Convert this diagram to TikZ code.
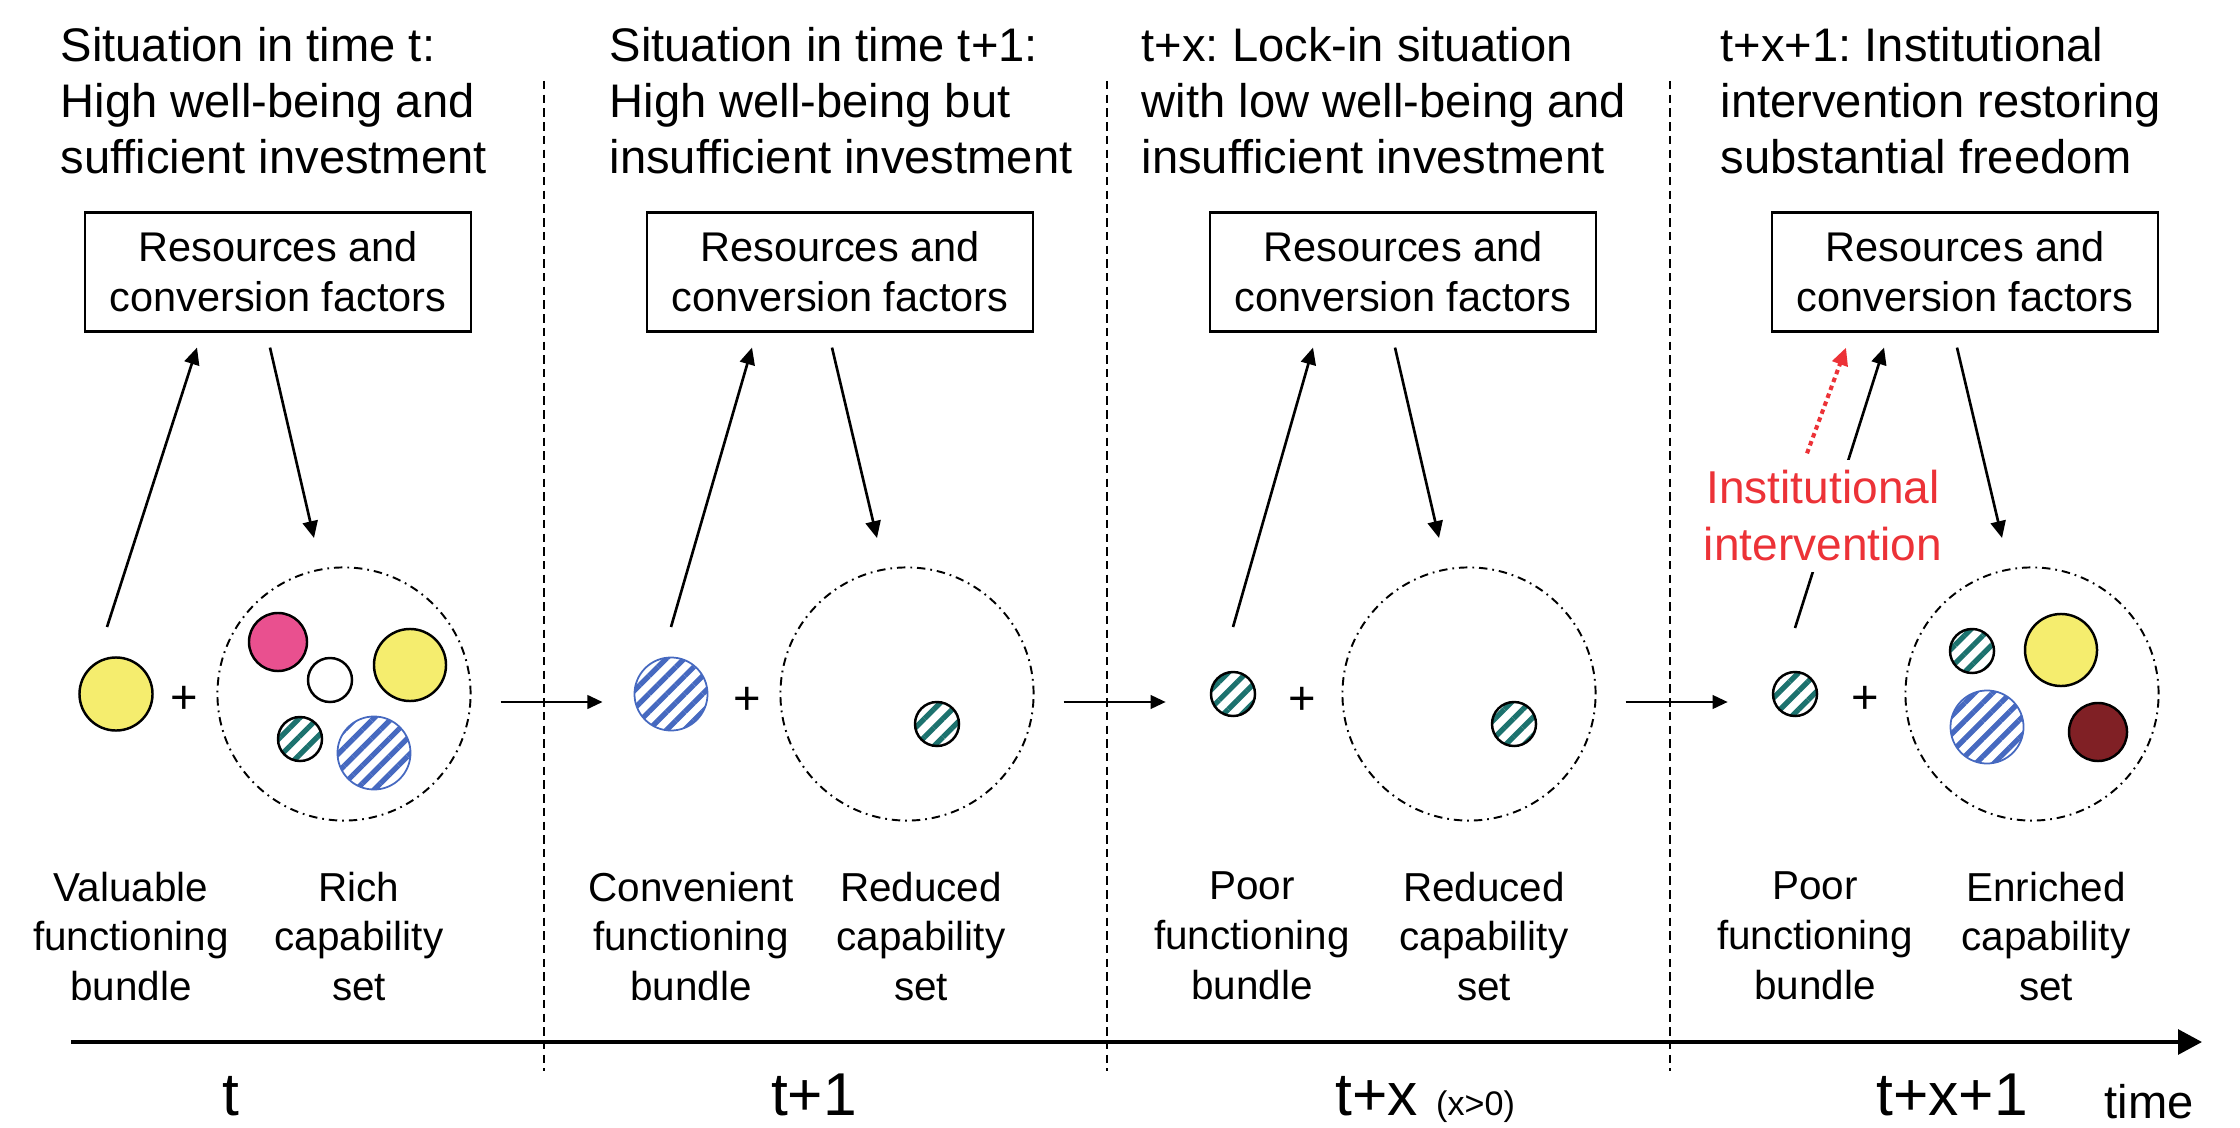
\documentclass[tikz,border=0pt]{standalone}
\usepackage{fontspec}
\setmainfont{Liberation Sans}
\usetikzlibrary{calc,arrows.meta,patterns.meta}
\frenchspacing

\definecolor{bulbyellow}{RGB}{245,237,110}
\definecolor{bulbpink}{RGB}{233,80,143}
\definecolor{bulbmaroon}{RGB}{128,32,37}
\definecolor{stripeblue}{RGB}{70,105,192}
\definecolor{stripeteal}{RGB}{28,114,110}
\definecolor{instred}{RGB}{236,50,55}

\newcommand{\headfont}{\fontsize{13.4}{15.9}\selectfont}
\newcommand{\boxfont}{\fontsize{11.8}{14.2}\selectfont}
\newcommand{\labfont}{\fontsize{11.5}{14.2}\selectfont}
\newcommand{\tickfont}{\fontsize{17.2}{20}\selectfont}

\tikzset{
	heading/.style={anchor=north west, inner sep=0pt, align=left, font=\headfont},
	factorbox/.style={draw, line width=0.6pt, minimum width=3.86cm, minimum height=1.19cm, inner sep=0pt, align=center, font=\boxfont},
	ball/.style={circle, draw, line width=0.7pt, inner sep=0pt, minimum size=#1},
	tealball/.style={ball=0.44cm, pattern={Lines[angle=45,distance=3.7pt,line width=1.5pt]}, pattern color=stripeteal},
	blueball/.style={ball=0.73cm, draw=stripeblue, line width=0.5pt, pattern={Lines[angle=45,distance=3.6pt,line width=1.5pt]}, pattern color=stripeblue},
	capset/.style={circle, draw, inner sep=0pt, minimum size=2.53cm, line width=0.55pt, dash pattern=on 2.4pt off 1.4pt on 0.5pt off 1.4pt},
	plussign/.style={inner sep=0pt, font=\headfont},
	caption/.style={anchor=north, inner sep=0pt, align=center, font=\labfont},
	conn/.style={line width=0.75pt, -{Triangle[length=4.8pt,width=4.3pt]}},
	hop/.style={line width=0.8pt, -{Triangle[length=4.3pt,width=3.8pt]}},
	timeaxis/.style={line width=1.1pt, -{Triangle[length=6.8pt,width=7pt]}},
	boundary/.style={line width=0.45pt, dash pattern=on 2.4pt off 1.5pt},
	instlabel/.style={fill=white, inner sep=3pt, align=center, text=instred, font=\fontsize{13.1}{16.2}\selectfont},
	instarrow/.style={draw=instred, line width=1.15pt, dash pattern=on 1.3pt off 1.1pt, -{Triangle[length=5pt,width=4.5pt,fill=instred]}}
}

\begin{document}
\begin{tikzpicture}[x=0.01cm, y=-0.01cm]
	%%%%% START %%%%%
	\useasboundingbox (0,0) rectangle (2240,1128);

	% column borders and time axis
	\foreach \x in {544,1107,1670}
		\draw[boundary] (\x,81) -- (\x,1071);
	\coordinate (axisstart) at (71,1042);
	\coordinate (axisend) at (2202,1042);
	\draw[timeaxis] (axisstart) -- (axisend);

	\node[anchor=base, inner sep=0pt, font=\tickfont] (tick1) at (231,1115) {t};
	\node[anchor=base, inner sep=0pt, font=\tickfont] (tick2) at (814,1115) {t+1};
	\node[anchor=base west, inner sep=0pt, font=\tickfont] (tick3) at (1335,1115) {t+x\hspace{0.3em}{\fontsize{9.7}{11}\selectfont(x>0)}};
	\node[anchor=base, inner sep=0pt, font=\tickfont] (tick4) at (1952,1115) {t+x+1};
	\node[anchor=base west, inner sep=0pt, font=\headfont] (timelabel) at (2104,1118) {time};

	% headings
	\node[heading] (head1) at (60,27) {Situation in time t:\\High well-being and\\sufficient investment};
	\node[heading] (head2) at (609,27) {Situation in time t+1:\\High well-being but\\insufficient investment};
	\node[heading] (head3) at (1141,27) {t+x: Lock-in situation\\with low well-being and\\insufficient investment};
	\node[heading] (head4) at (1720,27) {t+x+1: Institutional\\intervention restoring\\substantial freedom};

	% resources boxes
	\foreach \i/\x in {1/278,2/840,3/1403,4/1965}
		\node[factorbox] (box\i) at (\x,272) {Resources and\\conversion factors};

	% column t
	\node[ball=0.73cm, fill=bulbyellow] (f1) at (116,694) {};
	\node[plussign] (plus1) at (184,700) {+};
	\node[capset] (c1) at (344,694) {};
	\node[ball=0.58cm, fill=bulbpink] (c1pink) at (278,642) {};
	\node[ball=0.44cm, fill=white] (c1white) at (330,680) {};
	\node[ball=0.72cm, fill=bulbyellow] (c1yellow) at (410,665) {};
	\node[tealball] (c1teal) at (300,739) {};
	\node[blueball] (c1blue) at (374,753) {};

	% column t+1
	\node[blueball] (f2) at (671,694) {};
	\node[plussign] (plus2) at (747,701) {+};
	\node[capset] (c2) at (907,694) {};
	\node[tealball] (c2teal) at (937,724) {};

	% column t+x
	\node[tealball] (f3) at (1233,694) {};
	\node[plussign] (plus3) at (1302,701) {+};
	\node[capset] (c3) at (1469,694) {};
	\node[tealball] (c3teal) at (1514,724) {};

	% column t+x+1
	\node[tealball] (f4) at (1795,694) {};
	\node[plussign] (plus4) at (1865,700) {+};
	\node[capset] (c4) at (2032,694) {};
	\node[tealball] (c4teal) at (1972,651) {};
	\node[ball=0.72cm, fill=bulbyellow] (c4yellow) at (2061,650) {};
	\node[blueball] (c4blue) at (1987,727) {};
	\node[ball=0.58cm, fill=bulbmaroon] (c4maroon) at (2098,732) {};

	% captions
	\node[caption] (cap1f) at (131,871) {Valuable\\functioning\\bundle};
	\node[caption] (cap1c) at (359,871) {Rich\\capability\\set};
	\node[caption] (cap2f) at (691,871) {Convenient\\functioning\\bundle};
	\node[caption] (cap2c) at (921,871) {Reduced\\capability\\set};
	\node[caption] (cap3f) at (1252,871) {Poor\\functioning\\bundle};
	\node[caption] (cap3c) at (1484,871) {Reduced\\capability\\set};
	\node[caption] (cap4f) at (1815,871) {Poor\\functioning\\bundle};
	\node[caption] (cap4c) at (2046,871) {Enriched\\capability\\set};

	% feedback arrows
	\draw[conn] ($(f1)+(-9,-67)$) -- ($(box1.south)+(-81,15)$);
	\draw[conn] ($(f2)+(0,-67)$) -- ($(box2.south)+(-88,15)$);
	\draw[conn] ($(f3)+(0,-67)$) -- ($(box3.south)+(-90,15)$);
	\draw[conn] ($(f4)+(0,-66)$) -- ($(box4.south)+(-81,15)$);
	\foreach \i in {1,...,4}
		\draw[conn] ($(box\i.south)+(-8,15)$) -- ($(c\i)+(-30,-156)$);

	% steps in time
	\draw[hop] ($(c1.east)+(29,8)$) -- ($(f2.west)+(-31,8)$);
	\draw[hop] ($(c2.east)+(29,8)$) -- ($(f3.west)+(-44,8)$);
	\draw[hop] ($(c3.east)+(29,8)$) -- ($(f4.west)+(-44,8)$);

	% intervention
	\node[instlabel] (inst) at (1823,516) {Institutional\\intervention};
	\draw[instarrow] ($(inst.north)+(-16,-6)$) -- ($(box4.south)+(-119,15)$);

	%%%%% END %%%%%
\end{tikzpicture}
\end{document}
